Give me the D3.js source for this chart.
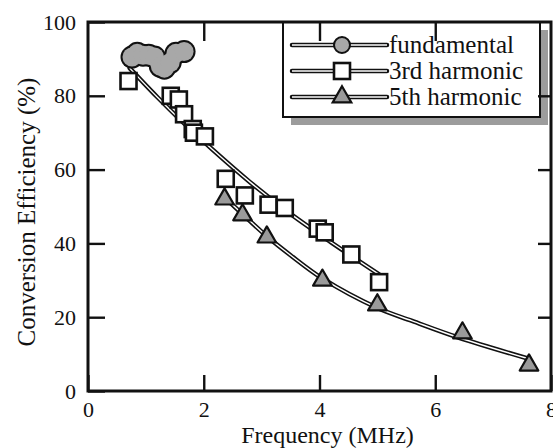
<!DOCTYPE html>
<html>
<head>
<meta charset="utf-8">
<script src="https://cdn.jsdelivr.net/npm/d3@7"></script>
<style>
  body { margin: 0; background: #fff; }
  svg { display: block; }
</style>
</head>
<body>
<div id="chart"></div>
<script>
// measured points
const fundFreq = [0.76, 0.85, 0.95, 1.05, 1.15, 1.25, 1.32, 1.42, 1.52, 1.66];
const fundEff  = [90.5, 91.5, 91, 91, 90.5, 88, 87.5, 89, 91.5, 92];

const h3Freq = [0.70, 1.43, 1.57, 1.66, 1.81, 1.83, 2.02, 2.38, 2.71, 3.12, 3.40, 3.97, 4.09, 4.55, 5.03];
const h3Eff  = [84, 80, 79, 75, 71, 70, 69, 57.5, 53, 50.5, 49.6, 44, 43, 37, 29.5];

const h5Freq = [2.36, 2.67, 3.09, 4.05, 5.0, 6.47, 7.62];
const h5Eff  = [52, 47.7, 41.7, 30, 23.3, 15.7, 7];

// fitted curves
const fit3Freq = [0.72, 1.2, 1.6, 2.16, 2.8, 3.5, 4.2, 5.03];
const fit3Eff  = [87.5, 79.6, 73.4, 65.3, 56.6, 48, 40.3, 31.6];
const fit5Freq = [2.36, 2.7, 3.1, 3.5, 4.05, 5.0, 5.6, 6.4, 7.6];
const fit5Eff  = [52.5, 47.5, 41.8, 36.8, 30.5, 22.5, 19, 14.5, 8.8];

const xTicks = [0, 2, 4, 6, 8];
const yTicks = [0, 20, 40, 60, 80, 100];
const legendLabels = ['fundamental', '3rd harmonic', '5th harmonic'];

const W = 553, H = 448;
const m = { left: 88, right: 551, top: 22, bottom: 391 };
const serif = '"Liberation Serif", "Times New Roman", serif';

const svg = d3.select('#chart').append('svg')
    .attr('width', W)
    .attr('height', H);

const x = d3.scaleLinear().domain([0, 8]).range([m.left, m.right]);
const y = d3.scaleLinear().domain([0, 100]).range([m.bottom, m.top]);

const zip = (a, b) => a.map((v, i) => [v, b[i]]);
const line = d3.line().x(d => x(d[0])).y(d => y(d[1])).curve(d3.curveCatmullRom);

// hollow looking curve: black outline with a thin white core
function hollow(g, pathD) {
    g.append('path').attr('d', pathD).attr('fill', 'none')
        .attr('stroke', '#111').attr('stroke-width', 4.5).attr('stroke-linecap', 'round');
    g.append('path').attr('d', pathD).attr('fill', 'none')
        .attr('stroke', '#fff').attr('stroke-width', 1.4);
}

const plot = svg.append('g');
hollow(plot, line(zip(fit3Freq, fit3Eff)));
hollow(plot, line(zip(fit5Freq, fit5Eff)));

// fundamental cloud
const fund = zip(fundFreq, fundEff);
plot.selectAll('.fo').data(fund).enter().append('circle')
    .attr('cx', d => x(d[0])).attr('cy', d => y(d[1])).attr('r', 11.5)
    .attr('fill', '#111');
plot.selectAll('.fi').data(fund).enter().append('circle')
    .attr('cx', d => x(d[0])).attr('cy', d => y(d[1])).attr('r', 9.5)
    .attr('fill', '#a8a8a8');

// squares
const sq = 16;
plot.selectAll('.sq').data(zip(h3Freq, h3Eff)).enter().append('rect')
    .attr('x', d => x(d[0]) - sq / 2).attr('y', d => y(d[1]) - sq / 2)
    .attr('width', sq).attr('height', sq)
    .attr('fill', '#fff').attr('stroke', '#111').attr('stroke-width', 2.6);

// triangles
const tri = d3.symbol().type(d3.symbolTriangle).size(150);
plot.selectAll('.tri').data(zip(h5Freq, h5Eff)).enter().append('path')
    .attr('d', tri)
    .attr('transform', d => `translate(${x(d[0])},${y(d[1])})`)
    .attr('fill', '#9a9a9a').attr('stroke', '#111').attr('stroke-width', 2.2)
    .attr('stroke-linejoin', 'round');

// legend
const lg = svg.append('g');
lg.append('rect').attr('x', 291).attr('y', 30).attr('width', 257).attr('height', 95)
    .attr('fill', '#9c9c9c');
lg.append('rect').attr('x', 283).attr('y', 22).attr('width', 257).attr('height', 95)
    .attr('fill', '#fff').attr('stroke', '#111').attr('stroke-width', 2);

const rowY = [45, 71, 97];
legendLabels.forEach((lab, i) => {
    const yy = rowY[i];
    hollow(lg, `M292,${yy}H387`);
    if (i === 0) {
        lg.append('circle').attr('cx', 342).attr('cy', yy).attr('r', 8)
            .attr('fill', '#a8a8a8').attr('stroke', '#111').attr('stroke-width', 2);
    } else if (i === 1) {
        lg.append('rect').attr('x', 334).attr('y', yy - 8).attr('width', 16).attr('height', 16)
            .attr('fill', '#fff').attr('stroke', '#111').attr('stroke-width', 2.6);
    } else {
        lg.append('path').attr('d', tri).attr('transform', `translate(342,${yy})`)
            .attr('fill', '#9a9a9a').attr('stroke', '#111').attr('stroke-width', 2.2);
    }
    lg.append('text').attr('x', 389).attr('y', yy + 8)
        .style('font-family', serif).style('font-size', '25px').attr('fill', '#111')
        .text(lab);
});

// axes (ticks point inward)
svg.append('g').attr('transform', `translate(0,${m.bottom})`)
    .call(d3.axisBottom(x).tickValues(xTicks).tickSize(-16).tickPadding(10));
svg.append('g').attr('transform', `translate(${m.left},0)`)
    .call(d3.axisLeft(y).tickValues(yTicks).tickSize(-17).tickPadding(12));
svg.append('g').attr('transform', `translate(0,${m.top})`)
    .call(d3.axisTop(x).tickValues([2, 4, 6]).tickSize(-19).tickFormat(''));
svg.append('g').attr('transform', `translate(${m.right},0)`)
    .call(d3.axisRight(y).tickValues([20, 40, 60, 80]).tickSize(-13).tickFormat(''));

svg.selectAll('.domain').remove();
svg.selectAll('.tick line').attr('stroke', '#111').attr('stroke-width', 2.4);
svg.selectAll('.tick text').attr('fill', '#111')
    .style('font-family', serif).style('font-size', '22px');

svg.append('rect').attr('x', m.left).attr('y', m.top)
    .attr('width', m.right - m.left).attr('height', m.bottom - m.top)
    .attr('fill', 'none').attr('stroke', '#111').attr('stroke-width', 3);

// axis titles
svg.append('text').attr('x', (m.left + m.right) / 2 + 8).attr('y', 443)
    .attr('text-anchor', 'middle').attr('fill', '#111')
    .style('font-family', serif).style('font-size', '24px').text('Frequency (MHz)');
svg.append('text')
    .attr('transform', `translate(35,212) rotate(-90)`)
    .attr('text-anchor', 'middle').attr('fill', '#111')
    .style('font-family', serif).style('font-size', '25px').text('Conversion Efficiency (%)');
</script>
</body>
</html>
